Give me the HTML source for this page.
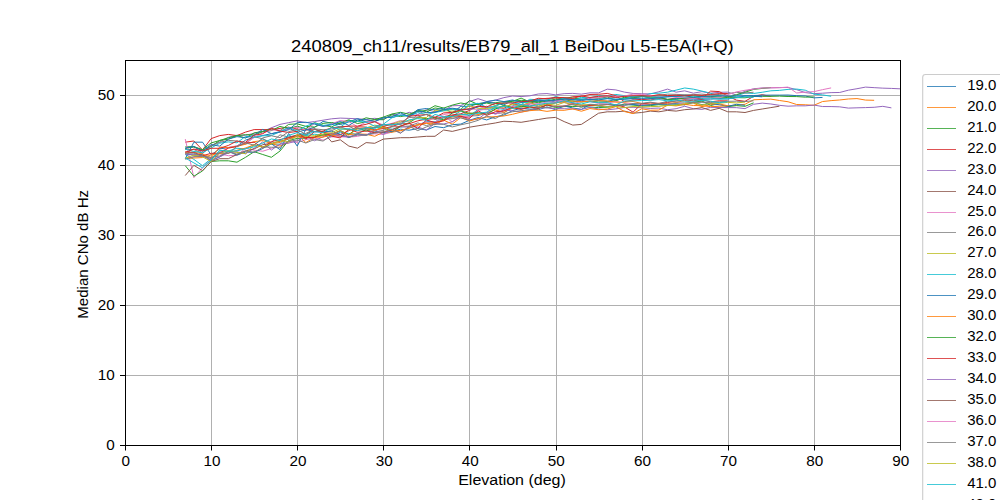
<!DOCTYPE html>
<html><head><meta charset="utf-8"><style>
html,body{margin:0;padding:0;background:#fff;width:1000px;height:500px;overflow:hidden}
svg{display:block}
.t{font-family:"Liberation Sans",sans-serif;font-size:13.89px;fill:#000}
.ti{font-family:"Liberation Sans",sans-serif;font-size:17.4px;fill:#000}
</style></head><body>
<svg width="1000" height="500" viewBox="0 0 1000 500">
<line x1="211.50" y1="60.0" x2="211.50" y2="445.0" stroke="#b0b0b0" stroke-width="1"/>
<line x1="297.50" y1="60.0" x2="297.50" y2="445.0" stroke="#b0b0b0" stroke-width="1"/>
<line x1="383.50" y1="60.0" x2="383.50" y2="445.0" stroke="#b0b0b0" stroke-width="1"/>
<line x1="469.50" y1="60.0" x2="469.50" y2="445.0" stroke="#b0b0b0" stroke-width="1"/>
<line x1="556.50" y1="60.0" x2="556.50" y2="445.0" stroke="#b0b0b0" stroke-width="1"/>
<line x1="642.50" y1="60.0" x2="642.50" y2="445.0" stroke="#b0b0b0" stroke-width="1"/>
<line x1="728.50" y1="60.0" x2="728.50" y2="445.0" stroke="#b0b0b0" stroke-width="1"/>
<line x1="814.50" y1="60.0" x2="814.50" y2="445.0" stroke="#b0b0b0" stroke-width="1"/>
<line x1="125.0" y1="375.50" x2="900.0" y2="375.50" stroke="#b0b0b0" stroke-width="1"/>
<line x1="125.0" y1="305.50" x2="900.0" y2="305.50" stroke="#b0b0b0" stroke-width="1"/>
<line x1="125.0" y1="235.50" x2="900.0" y2="235.50" stroke="#b0b0b0" stroke-width="1"/>
<line x1="125.0" y1="165.50" x2="900.0" y2="165.50" stroke="#b0b0b0" stroke-width="1"/>
<line x1="125.0" y1="95.50" x2="900.0" y2="95.50" stroke="#b0b0b0" stroke-width="1"/>
<path d="M185.28,148.41 L193.89,146.55 L202.50,153.24 L211.11,145.44 L219.72,141.75 L228.33,137.35 L236.94,135.25 L245.56,135.32 L254.17,133.32 L262.78,131.42 L271.39,127.78 L280.00,124.40 L288.61,122.65 L297.22,120.90 L305.83,122.65 L314.44,121.60 L323.06,120.20 L331.67,118.80 L340.28,118.10 L348.89,118.42 L357.50,118.79 L366.11,119.42 L374.72,118.30 L383.33,119.53 L391.94,114.24 L400.56,115.55 L409.17,112.25 L417.78,114.56 L426.39,109.64 L435.00,111.64 L443.61,110.53 L452.22,105.79 L460.83,105.47 L469.44,101.48 L478.06,98.71 L486.67,101.48 L495.28,100.17 L503.89,97.64 L512.50,96.01 L521.11,96.55 L529.72,95.85 L538.33,93.99 L546.94,93.57 L555.56,94.87 L564.17,93.65 L572.78,93.38 L581.39,94.14 L590.00,92.82 L598.61,92.90 L607.22,89.17 L615.83,89.92 L624.44,92.12 L633.06,93.44 L641.67,93.71 L650.28,93.93 L658.89,91.76 L667.50,89.10 L676.11,92.18 L684.72,90.83 L693.33,93.20 L701.94,91.63 L710.56,93.17 L719.17,92.34 L727.78,92.11 L736.39,95.25 L745.00,91.18 L753.61,88.74 L762.22,88.02 L770.83,87.85 L779.44,87.57 L788.06,87.50 L796.67,89.66 L805.28,92.59 L813.89,93.61 L822.50,93.21 L831.11,92.61 L839.72,92.47 L848.33,90.19 L856.94,88.73 L865.56,87.10 L874.17,87.65 L882.78,88.15 L891.39,88.42 L900.00,88.82" fill="none" stroke="#9467bd" stroke-width="1.0" stroke-linejoin="round"/>
<path d="M185.28,154.50 L193.89,159.40 L202.50,165.70 L211.11,158.70 L219.72,151.00 L228.33,151.06 L236.94,148.25 L245.56,148.91 L254.17,144.79 L262.78,138.84 L271.39,144.28 L280.00,144.12 L288.61,136.95 L297.22,136.37 L305.83,135.69 L314.44,134.21 L323.06,135.34 L331.67,136.34 L340.28,132.25 L348.89,133.45 L357.50,134.14 L366.11,129.05 L374.72,129.97 L383.33,127.48 L391.94,129.37 L400.56,127.13 L409.17,126.48 L417.78,125.02 L426.39,121.50 L435.00,121.74 L443.61,117.80 L452.22,116.23 L460.83,110.97 L469.44,115.99 L478.06,109.42 L486.67,109.66 L495.28,108.10 L503.89,109.36 L512.50,105.82 L521.11,102.51 L529.72,102.59 L538.33,101.07 L546.94,100.24 L555.56,97.26 L564.17,97.98 L572.78,99.59 L581.39,97.41 L590.00,97.84 L598.61,95.70 L607.22,96.21 L615.83,94.44 L624.44,95.66 L633.06,96.76 L641.67,96.53 L650.28,93.55 L658.89,93.23 L667.50,92.16 L676.11,90.14 L684.72,87.97 L693.33,89.13 L701.94,91.08 L710.56,93.21 L719.17,95.98 L727.78,96.74 L736.39,95.77 L745.00,93.01 L753.61,93.48 L762.22,92.25 L770.83,90.80 L779.44,90.38 L788.06,89.39 L796.67,89.09 L805.28,90.20 L813.89,94.14 L822.50,94.92 L831.11,96.25" fill="none" stroke="#17becf" stroke-width="1.0" stroke-linejoin="round"/>
<path d="M185.28,142.18 L193.89,140.99 L202.50,149.95 L211.11,138.61 L219.72,135.60 L228.33,134.41 L236.94,135.60 L245.56,132.10 L254.17,129.58 L262.78,129.58 L271.39,129.58 L280.00,128.39 L288.61,127.20 L297.22,129.09 L305.83,130.11 L314.44,128.85 L323.06,132.33 L331.67,133.64 L340.28,134.44 L348.89,130.66 L357.50,126.77 L366.11,127.10 L374.72,129.79 L383.33,128.56 L391.94,126.50 L400.56,123.71 L409.17,123.73 L417.78,120.84 L426.39,119.16 L435.00,118.77 L443.61,116.70 L452.22,114.90 L460.83,113.80 L469.44,110.47 L478.06,106.29 L486.67,107.39 L495.28,106.89 L503.89,108.31 L512.50,103.57 L521.11,105.97 L529.72,103.88 L538.33,99.25 L546.94,98.34 L555.56,98.04 L564.17,98.87 L572.78,96.74 L581.39,96.32 L590.00,94.51 L598.61,94.30 L607.22,93.39 L615.83,95.73 L624.44,101.68 L633.06,99.95 L641.67,99.36 L650.28,99.97 L658.89,98.63 L667.50,99.46 L676.11,97.95 L684.72,98.36 L693.33,98.01 L701.94,98.86 L710.56,91.12 L719.17,91.59 L727.78,95.97 L736.39,100.11 L745.00,101.30 L753.61,96.36 L762.22,94.70 L770.83,96.46" fill="none" stroke="#d62728" stroke-width="1.0" stroke-linejoin="round"/>
<path d="M185.28,148.39 L193.89,147.01 L202.50,150.15 L211.11,146.52 L219.72,140.40 L228.33,139.19 L236.94,135.66 L245.56,134.66 L254.17,134.97 L262.78,131.80 L271.39,130.62 L280.00,126.42 L288.61,128.62 L297.22,126.20 L305.83,128.71 L314.44,122.60 L323.06,125.37 L331.67,126.84 L340.28,122.71 L348.89,119.79 L357.50,123.54 L366.11,121.79 L374.72,119.64 L383.33,119.73 L391.94,114.84 L400.56,116.61 L409.17,115.06 L417.78,110.32 L426.39,112.20 L435.00,107.95 L443.61,109.54 L452.22,109.20 L460.83,109.45 L469.44,100.60 L478.06,104.44 L486.67,102.76 L495.28,102.75 L503.89,101.70 L512.50,101.32 L521.11,98.13 L529.72,101.96 L538.33,101.81 L546.94,100.58 L555.56,100.22 L564.17,97.89 L572.78,97.90 L581.39,99.45 L590.00,99.66 L598.61,98.50 L607.22,96.88 L615.83,100.60 L624.44,97.17 L633.06,98.35 L641.67,96.18 L650.28,97.34 L658.89,95.94 L667.50,96.25 L676.11,96.49 L684.72,95.30 L693.33,95.90 L701.94,96.98 L710.56,97.46 L719.17,98.32 L727.78,97.38 L736.39,94.67 L745.00,92.25 L753.61,89.44 L762.22,88.42 L770.83,87.55" fill="none" stroke="#2ca02c" stroke-width="1.0" stroke-linejoin="round"/>
<path d="M185.28,149.53 L193.89,149.50 L202.50,153.66 L211.11,145.84 L219.72,142.39 L228.33,140.37 L236.94,141.01 L245.56,144.11 L254.17,136.72 L262.78,138.81 L271.39,142.60 L280.00,134.81 L288.61,137.07 L297.22,134.91 L305.83,133.40 L314.44,129.15 L323.06,132.43 L331.67,130.71 L340.28,126.71 L348.89,126.41 L357.50,130.15 L366.11,129.76 L374.72,131.94 L383.33,130.29 L391.94,126.82 L400.56,126.62 L409.17,126.03 L417.78,122.91 L426.39,125.61 L435.00,122.72 L443.61,119.62 L452.22,118.70 L460.83,116.12 L469.44,116.03 L478.06,115.65 L486.67,112.92 L495.28,113.58 L503.89,112.79 L512.50,107.31 L521.11,107.09 L529.72,105.10 L538.33,106.76 L546.94,103.49 L555.56,102.33 L564.17,101.79 L572.78,102.29 L581.39,99.66 L590.00,97.88 L598.61,97.80 L607.22,98.10 L615.83,97.25 L624.44,96.26 L633.06,99.18 L641.67,96.51 L650.28,95.65 L658.89,95.26 L667.50,94.15 L676.11,94.36 L684.72,94.75 L693.33,94.63 L701.94,94.13 L710.56,94.98 L719.17,94.47 L727.78,93.67 L736.39,92.39 L745.00,92.99 L753.61,92.22" fill="none" stroke="#7f7f7f" stroke-width="1.0" stroke-linejoin="round"/>
<path d="M185.28,158.70 L193.89,142.18 L202.50,142.18 L211.11,154.78 L219.72,148.90 L228.33,147.57 L236.94,146.13 L245.56,140.16 L254.17,137.18 L262.78,135.48 L271.39,133.71 L280.00,131.59 L288.61,128.05 L297.22,132.33 L305.83,129.77 L314.44,127.40 L323.06,121.39 L331.67,123.26 L340.28,124.58 L348.89,121.93 L357.50,118.59 L366.11,122.04 L374.72,121.77 L383.33,117.28 L391.94,117.55 L400.56,115.28 L409.17,116.12 L417.78,109.67 L426.39,108.50 L435.00,109.89 L443.61,108.08 L452.22,112.89 L460.83,106.25 L469.44,106.40 L478.06,103.68 L486.67,101.99 L495.28,103.30 L503.89,104.93 L512.50,100.46 L521.11,101.87 L529.72,101.02 L538.33,100.97 L546.94,100.15 L555.56,102.14 L564.17,98.50 L572.78,99.85 L581.39,99.25 L590.00,98.86 L598.61,100.60 L607.22,101.35 L615.83,99.48 L624.44,98.78 L633.06,97.13 L641.67,95.63 L650.28,98.37 L658.89,97.28 L667.50,99.75 L676.11,98.43 L684.72,98.94 L693.33,99.27 L701.94,99.26 L710.56,99.13 L719.17,98.71 L727.78,98.98 L736.39,97.47 L745.00,96.11 L753.61,95.50 L762.22,95.21 L770.83,95.14 L779.44,95.14 L788.06,95.02 L796.67,95.67 L805.28,95.99 L813.89,97.86 L822.50,97.43" fill="none" stroke="#1f77b4" stroke-width="1.0" stroke-linejoin="round"/>
<path d="M185.28,146.84 L193.89,146.58 L202.50,149.69 L211.11,142.95 L219.72,140.49 L228.33,137.78 L236.94,135.67 L245.56,137.96 L254.17,132.84 L262.78,131.44 L271.39,128.74 L280.00,130.70 L288.61,124.40 L297.22,123.83 L305.83,126.37 L314.44,127.05 L323.06,123.40 L331.67,122.54 L340.28,123.51 L348.89,120.73 L357.50,121.38 L366.11,117.77 L374.72,119.60 L383.33,117.12 L391.94,113.97 L400.56,112.29 L409.17,114.20 L417.78,111.36 L426.39,110.49 L435.00,105.71 L443.61,108.08 L452.22,105.14 L460.83,102.98 L469.44,104.60 L478.06,104.36 L486.67,102.87 L495.28,105.33 L503.89,103.24 L512.50,101.10 L521.11,100.35 L529.72,100.79 L538.33,102.86 L546.94,100.97 L555.56,99.16 L564.17,99.92 L572.78,101.09 L581.39,102.09 L590.00,101.15 L598.61,102.00 L607.22,102.14 L615.83,100.80 L624.44,97.72 L633.06,97.88 L641.67,96.07 L650.28,98.08 L658.89,97.42 L667.50,99.28 L676.11,99.47 L684.72,97.93 L693.33,97.21 L701.94,96.08 L710.56,96.46 L719.17,96.87 L727.78,96.95 L736.39,97.64 L745.00,97.80 L753.61,96.53 L762.22,96.39 L770.83,96.37 L779.44,96.12 L788.06,96.51 L796.67,96.58 L805.28,97.16 L813.89,96.92" fill="none" stroke="#2ca02c" stroke-width="1.0" stroke-linejoin="round"/>
<path d="M185.28,159.01 L193.89,156.75 L202.50,155.07 L211.11,161.50 L219.72,153.75 L228.33,155.71 L236.94,155.20 L245.56,148.40 L254.17,150.16 L262.78,151.23 L271.39,148.41 L280.00,144.28 L288.61,141.26 L297.22,142.50 L305.83,139.65 L314.44,137.99 L323.06,140.08 L331.67,136.87 L340.28,136.76 L348.89,137.18 L357.50,136.37 L366.11,134.43 L374.72,133.80 L383.33,134.40 L391.94,132.13 L400.56,126.64 L409.17,127.42 L417.78,124.39 L426.39,122.40 L435.00,122.13 L443.61,116.36 L452.22,121.83 L460.83,116.32 L469.44,117.01 L478.06,110.39 L486.67,109.10 L495.28,114.42 L503.89,110.80 L512.50,106.24 L521.11,104.85 L529.72,103.67 L538.33,103.67 L546.94,102.03 L555.56,100.45 L564.17,100.56 L572.78,98.80 L581.39,101.15 L590.00,97.95 L598.61,97.80 L607.22,96.04 L615.83,96.34 L624.44,96.10 L633.06,94.10 L641.67,94.41 L650.28,95.37 L658.89,96.89 L667.50,96.56 L676.11,97.12 L684.72,97.69 L693.33,98.43 L701.94,97.36 L710.56,97.96 L719.17,97.87 L727.78,94.60 L736.39,91.90 L745.00,90.28 L753.61,89.16 L762.22,88.06 L770.83,87.74 L779.44,87.72 L788.06,87.08 L796.67,92.98 L805.28,92.10 L813.89,91.67 L822.50,89.67 L831.11,87.92" fill="none" stroke="#e377c2" stroke-width="1.0" stroke-linejoin="round"/>
<path d="M185.28,139.10 L193.89,177.60 L202.50,167.80 L211.11,159.40 L219.72,152.40 L228.33,147.50 L236.94,145.72 L245.56,142.97 L254.17,137.63 L262.78,133.03 L271.39,130.07 L280.00,130.15 L288.61,129.36 L297.22,127.14 L305.83,130.04 L314.44,123.41 L323.06,126.54 L331.67,123.77 L340.28,120.55 L348.89,121.57 L357.50,126.70 L366.11,121.90 L374.72,121.34 L383.33,125.07 L391.94,123.37 L400.56,120.53 L409.17,122.02 L417.78,114.52 L426.39,121.25 L435.00,117.45 L443.61,114.55 L452.22,113.11 L460.83,110.51 L469.44,109.13 L478.06,109.27 L486.67,106.14 L495.28,111.19 L503.89,106.50 L512.50,106.63 L521.11,104.74 L529.72,103.80 L538.33,105.17 L546.94,104.26 L555.56,101.89 L564.17,102.58 L572.78,103.79 L581.39,101.41 L590.00,101.51 L598.61,103.40 L607.22,103.25 L615.83,101.31 L624.44,103.10 L633.06,103.76 L641.67,104.28 L650.28,104.43 L658.89,104.00 L667.50,104.14 L676.11,102.94 L684.72,103.72 L693.33,102.34 L701.94,101.51 L710.56,103.44 L719.17,102.64" fill="none" stroke="#e377c2" stroke-width="1.0" stroke-linejoin="round"/>
<path d="M185.28,158.27 L193.89,158.03 L202.50,157.55 L211.11,154.95 L219.72,153.36 L228.33,153.32 L236.94,150.29 L245.56,148.00 L254.17,144.76 L262.78,146.83 L271.39,143.73 L280.00,146.00 L288.61,142.72 L297.22,134.45 L305.83,142.59 L314.44,137.40 L323.06,135.64 L331.67,135.45 L340.28,135.91 L348.89,134.53 L357.50,133.94 L366.11,134.21 L374.72,136.30 L383.33,132.22 L391.94,132.19 L400.56,130.80 L409.17,128.14 L417.78,125.20 L426.39,123.21 L435.00,124.77 L443.61,119.88 L452.22,116.94 L460.83,115.07 L469.44,113.01 L478.06,114.56 L486.67,112.91 L495.28,109.76 L503.89,112.40 L512.50,108.20 L521.11,108.44 L529.72,107.05 L538.33,107.73 L546.94,105.07 L555.56,103.00 L564.17,101.56 L572.78,101.09 L581.39,101.63 L590.00,101.21 L598.61,100.60 L607.22,100.91 L615.83,102.23 L624.44,102.14 L633.06,101.46 L641.67,103.43 L650.28,104.28 L658.89,103.29 L667.50,103.35 L676.11,102.69 L684.72,100.26 L693.33,103.22 L701.94,106.65 L710.56,104.67 L719.17,103.89 L727.78,105.75 L736.39,105.22 L745.00,104.28 L753.61,99.77 L762.22,99.45 L770.83,99.14 L779.44,100.49 L788.06,101.75 L796.67,104.51 L805.28,104.77 L813.89,105.33 L822.50,101.54 L831.11,100.64 L839.72,99.98 L848.33,99.01 L856.94,98.58 L865.56,100.09 L874.17,100.30" fill="none" stroke="#ff7f0e" stroke-width="1.0" stroke-linejoin="round"/>
<path d="M185.28,165.70 L193.89,176.20 L202.50,170.95 L211.11,161.50 L219.72,160.80 L228.33,160.80 L236.94,162.20 L245.56,157.30 L254.17,151.70 L262.78,154.50 L271.39,157.30 L280.00,151.00 L288.61,140.50 L297.22,138.40 L305.83,138.20 L314.44,136.94 L323.06,134.67 L331.67,134.10 L340.28,130.59 L348.89,134.54 L357.50,127.87 L366.11,131.13 L374.72,127.42 L383.33,127.10 L391.94,131.93 L400.56,126.32 L409.17,122.76 L417.78,117.22 L426.39,118.75 L435.00,117.26 L443.61,119.86 L452.22,112.91 L460.83,110.90 L469.44,113.40 L478.06,112.64 L486.67,114.38 L495.28,109.03 L503.89,105.26 L512.50,107.78 L521.11,106.42 L529.72,106.89 L538.33,108.52 L546.94,104.95 L555.56,107.52 L564.17,106.59 L572.78,106.49 L581.39,106.31 L590.00,107.05 L598.61,107.60 L607.22,107.17 L615.83,106.48 L624.44,104.04 L633.06,105.09 L641.67,105.96 L650.28,105.62 L658.89,104.66 L667.50,105.50 L676.11,104.77 L684.72,104.70 L693.33,102.21 L701.94,100.99 L710.56,105.42 L719.17,107.63 L727.78,106.68 L736.39,105.64 L745.00,106.32 L753.61,102.85" fill="none" stroke="#2ca02c" stroke-width="1.0" stroke-linejoin="round"/>
<path d="M185.28,153.74 L193.89,155.23 L202.50,154.40 L211.11,160.70 L219.72,156.88 L228.33,151.19 L236.94,155.20 L245.56,152.00 L254.17,152.40 L262.78,148.47 L271.39,143.84 L280.00,149.60 L288.61,133.50 L297.22,146.10 L305.83,129.30 L314.44,131.85 L323.06,131.73 L331.67,131.15 L340.28,134.35 L348.89,137.57 L357.50,133.72 L366.11,135.31 L374.72,132.11 L383.33,132.53 L391.94,131.42 L400.56,129.23 L409.17,130.20 L417.78,128.58 L426.39,130.00 L435.00,126.52 L443.61,127.68 L452.22,124.70 L460.83,124.08 L469.44,120.32 L478.06,117.49 L486.67,119.93 L495.28,116.81 L503.89,115.14 L512.50,110.57 L521.11,108.28 L529.72,109.00 L538.33,109.83 L546.94,106.88 L555.56,109.72 L564.17,105.99 L572.78,107.96 L581.39,109.42 L590.00,104.48 L598.61,106.20 L607.22,106.77 L615.83,105.20 L624.44,105.14 L633.06,104.43 L641.67,105.42 L650.28,104.83 L658.89,103.98 L667.50,104.34 L676.11,103.69 L684.72,104.74 L693.33,102.63 L701.94,104.64 L710.56,103.56 L719.17,104.78 L727.78,106.38 L736.39,104.33 L745.00,105.31" fill="none" stroke="#1f77b4" stroke-width="1.0" stroke-linejoin="round"/>
<path d="M185.28,154.23 L193.89,154.35 L202.50,155.84 L211.11,159.99 L219.72,156.86 L228.33,152.83 L236.94,151.77 L245.56,153.80 L254.17,148.18 L262.78,141.88 L271.39,150.07 L280.00,144.08 L288.61,143.11 L297.22,140.85 L305.83,135.83 L314.44,140.75 L323.06,136.74 L331.67,133.19 L340.28,136.40 L348.89,136.54 L357.50,134.66 L366.11,135.27 L374.72,129.58 L383.33,134.41 L391.94,129.20 L400.56,133.13 L409.17,126.82 L417.78,126.98 L426.39,130.00 L435.00,123.35 L443.61,124.07 L452.22,121.79 L460.83,116.22 L469.44,119.99 L478.06,119.08 L486.67,112.57 L495.28,113.63 L503.89,109.96 L512.50,110.94 L521.11,112.05 L529.72,110.31 L538.33,107.87 L546.94,107.92 L555.56,108.63 L564.17,108.70 L572.78,108.94 L581.39,109.40 L590.00,107.35 L598.61,109.00 L607.22,109.84 L615.83,108.90 L624.44,107.47 L633.06,107.28 L641.67,107.73 L650.28,108.43 L658.89,108.05 L667.50,109.73 L676.11,108.69 L684.72,106.25 L693.33,108.68 L701.94,109.41 L710.56,107.38 L719.17,107.47 L727.78,107.59 L736.39,107.65 L745.00,108.63 L753.61,104.27 L762.22,103.12 L770.83,103.98 L779.44,105.33 L788.06,106.18 L796.67,105.84 L805.28,105.83 L813.89,105.05 L822.50,106.54 L831.11,106.57 L839.72,106.84 L848.33,108.10 L856.94,107.82 L865.56,107.58 L874.17,107.29 L882.78,106.34 L891.39,107.86" fill="none" stroke="#9467bd" stroke-width="1.0" stroke-linejoin="round"/>
<path d="M185.28,175.50 L193.89,165.35 L202.50,170.60 L211.11,161.50 L219.72,158.70 L228.33,158.70 L236.94,154.50 L245.56,151.00 L254.17,148.90 L262.78,144.70 L271.39,143.30 L280.00,141.20 L288.61,139.10 L297.22,135.60 L305.83,134.90 L314.44,129.30 L323.06,132.10 L331.67,141.90 L340.28,139.80 L348.89,146.10 L357.50,148.20 L366.11,142.60 L374.72,143.30 L383.33,139.10 L391.94,138.40 L400.56,137.70 L409.17,137.70 L417.78,137.00 L426.39,136.30 L435.00,136.30 L443.61,130.00 L452.22,131.40 L460.83,129.30 L469.44,127.20 L478.06,125.80 L486.67,124.40 L495.28,123.00 L503.89,121.25 L512.50,121.60 L521.11,122.30 L529.72,120.90 L538.33,119.50 L546.94,118.10 L555.56,117.40 L564.17,121.60 L572.78,125.10 L581.39,124.40 L590.00,118.80 L598.61,113.20 L607.22,111.80 L615.83,111.80 L624.44,111.10 L633.06,113.20 L641.67,112.50 L650.28,111.10 L658.89,111.80 L667.50,110.40 L676.11,111.10 L684.72,109.70 L693.33,109.00 L701.94,107.60 L710.56,110.40 L719.17,108.30 L727.78,111.80 L736.39,111.80 L745.00,112.50 L753.61,110.40 L762.22,109.00 L770.83,107.60 L779.44,106.20" fill="none" stroke="#8c564b" stroke-width="1.0" stroke-linejoin="round"/>
<path d="M185.28,153.17 L193.89,152.04 L202.50,154.06 L211.11,157.77 L219.72,147.00 L228.33,147.78 L236.94,146.44 L245.56,144.17 L254.17,141.62 L262.78,140.55 L271.39,143.73 L280.00,142.41 L288.61,138.19 L297.22,136.84 L305.83,137.69 L314.44,137.05 L323.06,137.25 L331.67,134.53 L340.28,130.67 L348.89,135.19 L357.50,128.59 L366.11,128.51 L374.72,130.41 L383.33,127.19 L391.94,130.80 L400.56,130.46 L409.17,128.05 L417.78,124.46 L426.39,123.30 L435.00,122.83 L443.61,120.13 L452.22,124.12 L460.83,117.56 L469.44,121.04 L478.06,118.58 L486.67,117.09 L495.28,116.69 L503.89,115.98 L512.50,114.29 L521.11,112.15 L529.72,110.66 L538.33,110.00 L546.94,111.36 L555.56,110.18 L564.17,110.31 L572.78,108.88 L581.39,111.24 L590.00,108.57 L598.61,109.70 L607.22,109.05 L615.83,106.58 L624.44,111.55 L633.06,113.59 L641.67,108.77 L650.28,110.28 L658.89,110.06 L667.50,105.17 L676.11,105.93 L684.72,104.36 L693.33,105.51 L701.94,105.71 L710.56,106.60 L719.17,106.27 L727.78,105.66" fill="none" stroke="#ff7f0e" stroke-width="1.0" stroke-linejoin="round"/>
<path d="M185.28,151.79 L193.89,152.46 L202.50,155.81 L211.11,153.31 L219.72,153.21 L228.33,148.16 L236.94,146.47 L245.56,142.94 L254.17,142.26 L262.78,147.95 L271.39,141.55 L280.00,139.58 L288.61,137.64 L297.22,135.27 L305.83,137.49 L314.44,137.63 L323.06,132.06 L331.67,136.13 L340.28,137.96 L348.89,128.97 L357.50,132.40 L366.11,130.96 L374.72,132.62 L383.33,132.05 L391.94,129.79 L400.56,125.96 L409.17,123.32 L417.78,128.41 L426.39,120.00 L435.00,122.56 L443.61,120.85 L452.22,115.58 L460.83,116.39 L469.44,118.39 L478.06,110.79 L486.67,115.40 L495.28,111.82 L503.89,110.91 L512.50,107.26 L521.11,109.52 L529.72,106.75 L538.33,108.35 L546.94,104.97 L555.56,106.53 L564.17,106.11 L572.78,103.78 L581.39,105.25 L590.00,105.44 L598.61,105.50 L607.22,104.45 L615.83,104.87 L624.44,106.92 L633.06,112.17 L641.67,103.80 L650.28,102.82 L658.89,103.42 L667.50,102.52 L676.11,100.81 L684.72,99.89 L693.33,100.80 L701.94,99.75 L710.56,101.83 L719.17,100.77 L727.78,100.88" fill="none" stroke="#d62728" stroke-width="1.0" stroke-linejoin="round"/>
<path d="M185.28,158.25 L193.89,155.14 L202.50,156.85 L211.11,161.50 L219.72,152.92 L228.33,150.82 L236.94,152.43 L245.56,153.66 L254.17,145.09 L262.78,147.12 L271.39,143.82 L280.00,140.58 L288.61,141.62 L297.22,134.98 L305.83,136.49 L314.44,135.67 L323.06,134.08 L331.67,132.71 L340.28,128.69 L348.89,129.89 L357.50,128.94 L366.11,127.83 L374.72,125.15 L383.33,126.64 L391.94,124.04 L400.56,121.39 L409.17,120.82 L417.78,117.85 L426.39,117.53 L435.00,110.20 L443.61,110.68 L452.22,111.17 L460.83,111.30 L469.44,105.72 L478.06,108.27 L486.67,108.50 L495.28,107.43 L503.89,106.89 L512.50,104.40 L521.11,105.87 L529.72,102.37 L538.33,106.07 L546.94,103.76 L555.56,105.37 L564.17,102.44 L572.78,104.87 L581.39,104.94 L590.00,104.44 L598.61,105.50 L607.22,106.85 L615.83,106.39 L624.44,107.63 L633.06,106.50 L641.67,106.99 L650.28,106.64 L658.89,106.36 L667.50,105.54 L676.11,105.27 L684.72,103.68 L693.33,102.65 L701.94,105.00 L710.56,103.35 L719.17,103.28 L727.78,102.36 L736.39,102.94 L745.00,102.08" fill="none" stroke="#bcbd22" stroke-width="1.0" stroke-linejoin="round"/>
<path d="M185.28,149.18 L193.89,151.48 L202.50,152.58 L211.11,147.94 L219.72,143.22 L228.33,141.89 L236.94,142.77 L245.56,136.43 L254.17,137.34 L262.78,135.82 L271.39,135.54 L280.00,131.71 L288.61,127.38 L297.22,131.18 L305.83,126.16 L314.44,123.06 L323.06,125.49 L331.67,124.25 L340.28,127.07 L348.89,120.98 L357.50,121.26 L366.11,122.21 L374.72,126.20 L383.33,124.21 L391.94,117.81 L400.56,114.92 L409.17,116.43 L417.78,112.52 L426.39,114.56 L435.00,112.51 L443.61,110.79 L452.22,108.93 L460.83,111.11 L469.44,104.41 L478.06,103.26 L486.67,107.24 L495.28,106.44 L503.89,102.39 L512.50,102.81 L521.11,104.57 L529.72,99.31 L538.33,99.75 L546.94,100.19 L555.56,96.52 L564.17,98.87 L572.78,99.62 L581.39,98.89 L590.00,99.96 L598.61,99.20 L607.22,98.55 L615.83,99.16 L624.44,98.78 L633.06,96.57 L641.67,97.04 L650.28,96.96 L658.89,97.07 L667.50,96.98 L676.11,96.06 L684.72,97.12 L693.33,95.94 L701.94,98.38 L710.56,98.13 L719.17,99.21 L727.78,98.74 L736.39,97.71 L745.00,96.79 L753.61,97.40" fill="none" stroke="#17becf" stroke-width="1.0" stroke-linejoin="round"/>
<path d="M185.28,159.12 L193.89,156.81 L202.50,156.32 L211.11,157.27 L219.72,155.94 L228.33,151.80 L236.94,154.08 L245.56,150.80 L254.17,152.40 L262.78,147.00 L271.39,147.23 L280.00,147.36 L288.61,141.33 L297.22,139.97 L305.83,143.02 L314.44,139.51 L323.06,141.06 L331.67,135.28 L340.28,131.15 L348.89,137.14 L357.50,135.12 L366.11,135.13 L374.72,133.10 L383.33,131.76 L391.94,129.23 L400.56,133.04 L409.17,126.38 L417.78,130.64 L426.39,126.91 L435.00,124.18 L443.61,124.28 L452.22,126.93 L460.83,124.77 L469.44,122.98 L478.06,120.36 L486.67,116.15 L495.28,118.57 L503.89,113.79 L512.50,111.75 L521.11,110.67 L529.72,109.81 L538.33,107.30 L546.94,107.63 L555.56,106.24 L564.17,106.05 L572.78,104.53 L581.39,107.43 L590.00,104.24 L598.61,104.80 L607.22,104.65 L615.83,104.87 L624.44,105.27 L633.06,103.47 L641.67,103.31 L650.28,102.13 L658.89,103.67 L667.50,101.09 L676.11,101.92 L684.72,102.20 L693.33,102.41 L701.94,102.32 L710.56,102.41 L719.17,101.83 L727.78,101.30 L736.39,101.18 L745.00,101.59 L753.61,100.72" fill="none" stroke="#7f7f7f" stroke-width="1.0" stroke-linejoin="round"/>
<path d="M185.28,148.05 L193.89,146.45 L202.50,151.16 L211.11,144.63 L219.72,146.14 L228.33,139.10 L236.94,136.67 L245.56,137.75 L254.17,135.20 L262.78,129.42 L271.39,133.69 L280.00,132.20 L288.61,129.73 L297.22,122.65 L305.83,122.23 L314.44,124.08 L323.06,126.40 L331.67,124.78 L340.28,121.47 L348.89,125.45 L357.50,119.90 L366.11,119.66 L374.72,121.42 L383.33,118.05 L391.94,116.64 L400.56,112.87 L409.17,116.78 L417.78,110.80 L426.39,112.63 L435.00,112.32 L443.61,109.51 L452.22,108.22 L460.83,109.37 L469.44,109.30 L478.06,106.98 L486.67,101.74 L495.28,100.13 L503.89,101.59 L512.50,99.99 L521.11,102.13 L529.72,100.83 L538.33,100.16 L546.94,101.18 L555.56,100.23 L564.17,99.04 L572.78,99.58 L581.39,100.48 L590.00,99.41 L598.61,99.90 L607.22,98.64 L615.83,99.34 L624.44,99.34 L633.06,98.66 L641.67,98.65 L650.28,98.66 L658.89,98.00 L667.50,96.62 L676.11,96.30 L684.72,95.38 L693.33,97.57 L701.94,96.42 L710.56,96.29 L719.17,95.72 L727.78,96.02 L736.39,96.19 L745.00,95.63 L753.61,96.14 L762.22,96.84" fill="none" stroke="#1f77b4" stroke-width="1.0" stroke-linejoin="round"/>
<path d="M185.28,152.46 L193.89,149.05 L202.50,151.04 L211.11,148.25 L219.72,148.34 L228.33,145.44 L236.94,141.01 L245.56,142.32 L254.17,135.23 L262.78,133.73 L271.39,128.26 L280.00,131.11 L288.61,132.47 L297.22,131.50 L305.83,139.00 L314.44,131.74 L323.06,131.10 L331.67,127.61 L340.28,127.08 L348.89,126.07 L357.50,126.15 L366.11,124.30 L374.72,121.70 L383.33,126.49 L391.94,123.87 L400.56,124.74 L409.17,116.17 L417.78,115.33 L426.39,114.55 L435.00,117.34 L443.61,112.91 L452.22,112.33 L460.83,109.98 L469.44,108.72 L478.06,106.01 L486.67,106.83 L495.28,103.54 L503.89,103.07 L512.50,102.88 L521.11,101.74 L529.72,101.04 L538.33,98.27 L546.94,98.80 L555.56,97.33 L564.17,97.63 L572.78,98.44 L581.39,95.96 L590.00,97.43 L598.61,96.40 L607.22,95.72 L615.83,97.40 L624.44,96.43 L633.06,95.75 L641.67,95.73 L650.28,96.17 L658.89,94.65 L667.50,95.62 L676.11,95.25 L684.72,96.04 L693.33,95.04 L701.94,95.43 L710.56,94.46 L719.17,93.60 L727.78,93.57" fill="none" stroke="#d62728" stroke-width="1.0" stroke-linejoin="round"/>
<path d="M185.28,153.17 L193.89,153.16 L202.50,155.91 L211.11,158.64 L219.72,152.56 L228.33,153.56 L236.94,146.34 L245.56,142.92 L254.17,145.14 L262.78,137.92 L271.39,135.74 L280.00,137.65 L288.61,131.68 L297.22,129.32 L305.83,134.68 L314.44,128.89 L323.06,129.72 L331.67,129.00 L340.28,126.93 L348.89,129.79 L357.50,128.50 L366.11,128.38 L374.72,127.21 L383.33,124.50 L391.94,125.33 L400.56,122.67 L409.17,117.49 L417.78,117.06 L426.39,114.34 L435.00,119.52 L443.61,117.76 L452.22,118.14 L460.83,117.88 L469.44,120.31" fill="none" stroke="#7f7f7f" stroke-width="1.0" stroke-linejoin="round"/>
<path d="M185.28,158.00 L193.89,162.90 L202.50,167.80 L211.11,160.10 L219.72,150.30 L228.33,151.19 L236.94,150.88 L245.56,148.74 L254.17,146.80 L262.78,143.15 L271.39,138.96 L280.00,140.46 L288.61,135.35 L297.22,132.68 L305.83,135.19 L314.44,131.43 L323.06,132.66 L331.67,127.51 L340.28,129.19 L348.89,128.70 L357.50,130.82 L366.11,127.32 L374.72,128.51 L383.33,124.83 L391.94,124.34 L400.56,124.25 L409.17,119.78 L417.78,118.61 L426.39,120.22 L435.00,114.48 L443.61,116.79 L452.22,116.46 L460.83,114.27 L469.44,114.98 L478.06,113.25 L486.67,112.13 L495.28,107.67 L503.89,106.23 L512.50,108.49 L521.11,104.50 L529.72,106.32 L538.33,104.55 L546.94,103.11 L555.56,103.12 L564.17,100.62 L572.78,102.81 L581.39,104.02 L590.00,101.78 L598.61,102.70 L607.22,102.71 L615.83,104.96 L624.44,100.94 L633.06,100.84 L641.67,100.59 L650.28,100.31 L658.89,99.58 L667.50,100.92 L676.11,99.98 L684.72,101.19 L693.33,101.15 L701.94,100.36 L710.56,101.15 L719.17,102.68 L727.78,101.75" fill="none" stroke="#17becf" stroke-width="1.0" stroke-linejoin="round"/>
<rect x="125.5" y="60.5" width="775" height="385" fill="none" stroke="#000" stroke-width="1"/>
<line x1="125.50" y1="445.0" x2="125.50" y2="450.50" stroke="#000" stroke-width="1"/>
<text transform="translate(125.80,465.90) scale(1.1,1)" text-anchor="middle" class="t">0</text>
<line x1="211.50" y1="445.0" x2="211.50" y2="450.50" stroke="#000" stroke-width="1"/>
<text transform="translate(211.91,465.90) scale(1.1,1)" text-anchor="middle" class="t">10</text>
<line x1="297.50" y1="445.0" x2="297.50" y2="450.50" stroke="#000" stroke-width="1"/>
<text transform="translate(298.02,465.90) scale(1.1,1)" text-anchor="middle" class="t">20</text>
<line x1="383.50" y1="445.0" x2="383.50" y2="450.50" stroke="#000" stroke-width="1"/>
<text transform="translate(384.13,465.90) scale(1.1,1)" text-anchor="middle" class="t">30</text>
<line x1="469.50" y1="445.0" x2="469.50" y2="450.50" stroke="#000" stroke-width="1"/>
<text transform="translate(470.24,465.90) scale(1.1,1)" text-anchor="middle" class="t">40</text>
<line x1="556.50" y1="445.0" x2="556.50" y2="450.50" stroke="#000" stroke-width="1"/>
<text transform="translate(556.36,465.90) scale(1.1,1)" text-anchor="middle" class="t">50</text>
<line x1="642.50" y1="445.0" x2="642.50" y2="450.50" stroke="#000" stroke-width="1"/>
<text transform="translate(642.47,465.90) scale(1.1,1)" text-anchor="middle" class="t">60</text>
<line x1="728.50" y1="445.0" x2="728.50" y2="450.50" stroke="#000" stroke-width="1"/>
<text transform="translate(728.58,465.90) scale(1.1,1)" text-anchor="middle" class="t">70</text>
<line x1="814.50" y1="445.0" x2="814.50" y2="450.50" stroke="#000" stroke-width="1"/>
<text transform="translate(814.69,465.90) scale(1.1,1)" text-anchor="middle" class="t">80</text>
<line x1="900.50" y1="445.0" x2="900.50" y2="450.50" stroke="#000" stroke-width="1"/>
<text transform="translate(900.80,465.90) scale(1.1,1)" text-anchor="middle" class="t">90</text>
<line x1="120.00" y1="445.50" x2="125.0" y2="445.50" stroke="#000" stroke-width="1"/>
<text transform="translate(114.80,450.00) scale(1.1,1)" text-anchor="end" class="t">0</text>
<line x1="120.00" y1="375.50" x2="125.0" y2="375.50" stroke="#000" stroke-width="1"/>
<text transform="translate(114.80,380.00) scale(1.1,1)" text-anchor="end" class="t">10</text>
<line x1="120.00" y1="305.50" x2="125.0" y2="305.50" stroke="#000" stroke-width="1"/>
<text transform="translate(114.80,310.00) scale(1.1,1)" text-anchor="end" class="t">20</text>
<line x1="120.00" y1="235.50" x2="125.0" y2="235.50" stroke="#000" stroke-width="1"/>
<text transform="translate(114.80,240.00) scale(1.1,1)" text-anchor="end" class="t">30</text>
<line x1="120.00" y1="165.50" x2="125.0" y2="165.50" stroke="#000" stroke-width="1"/>
<text transform="translate(114.80,170.00) scale(1.1,1)" text-anchor="end" class="t">40</text>
<line x1="120.00" y1="95.50" x2="125.0" y2="95.50" stroke="#000" stroke-width="1"/>
<text transform="translate(114.80,100.00) scale(1.1,1)" text-anchor="end" class="t">50</text>
<text transform="translate(512,485) scale(1.154,1)" text-anchor="middle" class="t">Elevation (deg)</text>
<text transform="translate(87.8,254.3) rotate(-90) scale(1.084,1)" text-anchor="middle" class="t">Median CNo dB Hz</text>
<text transform="translate(512.4,51.8) scale(1.057,1)" text-anchor="middle" class="ti">240809_ch11/results/EB79_all_1 BeiDou L5-E5A(I+Q)</text>
<rect x="922.7" y="74.5" width="120" height="600" rx="2.8" fill="#fff" fill-opacity="0.8" stroke="#cccccc" stroke-width="1.1"/>
<line x1="927" y1="86.50" x2="956" y2="86.50" stroke="#1f77b4" stroke-width="1.0" stroke-opacity="0.8"/>
<text transform="translate(967.2,90.00) scale(1.08,1)" class="t">19.0</text>
<line x1="927" y1="107.50" x2="956" y2="107.50" stroke="#ff7f0e" stroke-width="1.0" stroke-opacity="0.8"/>
<text transform="translate(967.2,111.00) scale(1.08,1)" class="t">20.0</text>
<line x1="927" y1="128.50" x2="956" y2="128.50" stroke="#2ca02c" stroke-width="1.0" stroke-opacity="0.8"/>
<text transform="translate(967.2,132.00) scale(1.08,1)" class="t">21.0</text>
<line x1="927" y1="149.50" x2="956" y2="149.50" stroke="#d62728" stroke-width="1.0" stroke-opacity="0.8"/>
<text transform="translate(967.2,153.00) scale(1.08,1)" class="t">22.0</text>
<line x1="927" y1="170.50" x2="956" y2="170.50" stroke="#9467bd" stroke-width="1.0" stroke-opacity="0.8"/>
<text transform="translate(967.2,174.00) scale(1.08,1)" class="t">23.0</text>
<line x1="927" y1="191.50" x2="956" y2="191.50" stroke="#8c564b" stroke-width="1.0" stroke-opacity="0.8"/>
<text transform="translate(967.2,195.00) scale(1.08,1)" class="t">24.0</text>
<line x1="927" y1="212.50" x2="956" y2="212.50" stroke="#e377c2" stroke-width="1.0" stroke-opacity="0.8"/>
<text transform="translate(967.2,216.00) scale(1.08,1)" class="t">25.0</text>
<line x1="927" y1="232.50" x2="956" y2="232.50" stroke="#7f7f7f" stroke-width="1.0" stroke-opacity="0.8"/>
<text transform="translate(967.2,236.00) scale(1.08,1)" class="t">26.0</text>
<line x1="927" y1="253.50" x2="956" y2="253.50" stroke="#bcbd22" stroke-width="1.0" stroke-opacity="0.8"/>
<text transform="translate(967.2,257.00) scale(1.08,1)" class="t">27.0</text>
<line x1="927" y1="274.50" x2="956" y2="274.50" stroke="#17becf" stroke-width="1.0" stroke-opacity="0.8"/>
<text transform="translate(967.2,278.00) scale(1.08,1)" class="t">28.0</text>
<line x1="927" y1="295.50" x2="956" y2="295.50" stroke="#1f77b4" stroke-width="1.0" stroke-opacity="0.8"/>
<text transform="translate(967.2,299.00) scale(1.08,1)" class="t">29.0</text>
<line x1="927" y1="316.50" x2="956" y2="316.50" stroke="#ff7f0e" stroke-width="1.0" stroke-opacity="0.8"/>
<text transform="translate(967.2,320.00) scale(1.08,1)" class="t">30.0</text>
<line x1="927" y1="337.50" x2="956" y2="337.50" stroke="#2ca02c" stroke-width="1.0" stroke-opacity="0.8"/>
<text transform="translate(967.2,341.00) scale(1.08,1)" class="t">32.0</text>
<line x1="927" y1="358.50" x2="956" y2="358.50" stroke="#d62728" stroke-width="1.0" stroke-opacity="0.8"/>
<text transform="translate(967.2,362.00) scale(1.08,1)" class="t">33.0</text>
<line x1="927" y1="379.50" x2="956" y2="379.50" stroke="#9467bd" stroke-width="1.0" stroke-opacity="0.8"/>
<text transform="translate(967.2,383.00) scale(1.08,1)" class="t">34.0</text>
<line x1="927" y1="400.50" x2="956" y2="400.50" stroke="#8c564b" stroke-width="1.0" stroke-opacity="0.8"/>
<text transform="translate(967.2,404.00) scale(1.08,1)" class="t">35.0</text>
<line x1="927" y1="421.50" x2="956" y2="421.50" stroke="#e377c2" stroke-width="1.0" stroke-opacity="0.8"/>
<text transform="translate(967.2,425.00) scale(1.08,1)" class="t">36.0</text>
<line x1="927" y1="442.50" x2="956" y2="442.50" stroke="#7f7f7f" stroke-width="1.0" stroke-opacity="0.8"/>
<text transform="translate(967.2,446.00) scale(1.08,1)" class="t">37.0</text>
<line x1="927" y1="463.50" x2="956" y2="463.50" stroke="#bcbd22" stroke-width="1.0" stroke-opacity="0.8"/>
<text transform="translate(967.2,467.00) scale(1.08,1)" class="t">38.0</text>
<line x1="927" y1="484.50" x2="956" y2="484.50" stroke="#17becf" stroke-width="1.0" stroke-opacity="0.8"/>
<text transform="translate(967.2,488.00) scale(1.08,1)" class="t">41.0</text>
<line x1="927" y1="505.50" x2="956" y2="505.50" stroke="#1f77b4" stroke-width="1.0" stroke-opacity="0.8"/>
<text transform="translate(967.2,509.00) scale(1.08,1)" class="t">42.0</text>
<line x1="927" y1="526.50" x2="956" y2="526.50" stroke="#ff7f0e" stroke-width="1.0" stroke-opacity="0.8"/>
<text transform="translate(967.2,530.00) scale(1.08,1)" class="t">43.0</text>
</svg></body></html>
